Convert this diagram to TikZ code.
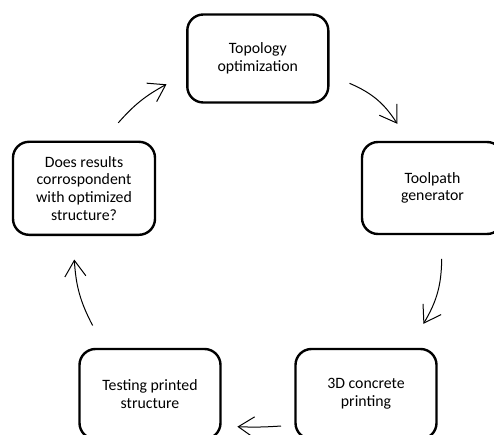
\documentclass[tikz,border=0pt]{standalone}
\usepackage{fontspec}
\setmainfont{Carlito}
\usetikzlibrary{arrows.meta}
\begin{document}
\begin{tikzpicture}[x=1pt,y=1pt,
    stagebox/.style={draw, line width=2.4pt, rounded corners=16pt,
      minimum width=141pt, minimum height=88pt, inner sep=0pt,
      align=center, font=\fontsize{15.8}{17.7}\selectfont},
    cyclearrow/.style={-{Straight Barb[length=16pt,width=21pt]}, line width=1pt}]
    % 1) Fix the page size (the bottom boxes run off the page)
    \clip (0,0) rectangle (494,434);

    % 2) The five stages of the cycle
    \node[stagebox] (topo) at (257.8,375.5) {Topology\\optimization};
    \node[stagebox, minimum height=92pt] (tool) at (432.5,246) {Toolpath\\generator};
    \node[stagebox, minimum height=90pt] (print) at (366,40) {3D concrete\\printing};
    \node[stagebox, minimum height=90pt] (test) at (150,40) {Testing printed\\structure};
    \node[stagebox, minimum width=142pt, minimum height=93pt] (check) at (84,245.7)
      {Does results\\corrospondent\\with optimized\\structure?};

    % 3) Free ends of the arrows, placed off the box borders
    \coordinate (s1) at ([shift={(20,-24.8)}]topo.east);
    \coordinate (e1) at ([shift={(-35.2,17)}]tool.north);
    \coordinate (s2) at ([shift={(9.2,-23.7)}]tool.south);
    \coordinate (e2) at ([shift={(-14.3,24)}]print.north east);
    \coordinate (s3) at ([shift={(-13.3,-32)}]print.west);
    \coordinate (e3) at ([shift={(15.7,-32.7)}]test.east);
    \coordinate (s4) at ([shift={(14.3,22.3)}]test.north west);
    \coordinate (e4) at ([shift={(-9.7,-23.5)}]check.south);
    \coordinate (s5) at ([shift={(34.3,17.8)}]check.north);
    \coordinate (e5) at ([shift={(-19.6,-25.8)}]topo.west);

    % 4) Clockwise arrows between the stages
    \foreach \from/\to/\bend in {s1/e1/17, s2/e2/15, s3/e3/3, s4/e4/12, s5/e5/10} {
      \draw[cyclearrow] (\from) to[bend left=\bend] (\to);
    }
\end{tikzpicture}
\end{document}
